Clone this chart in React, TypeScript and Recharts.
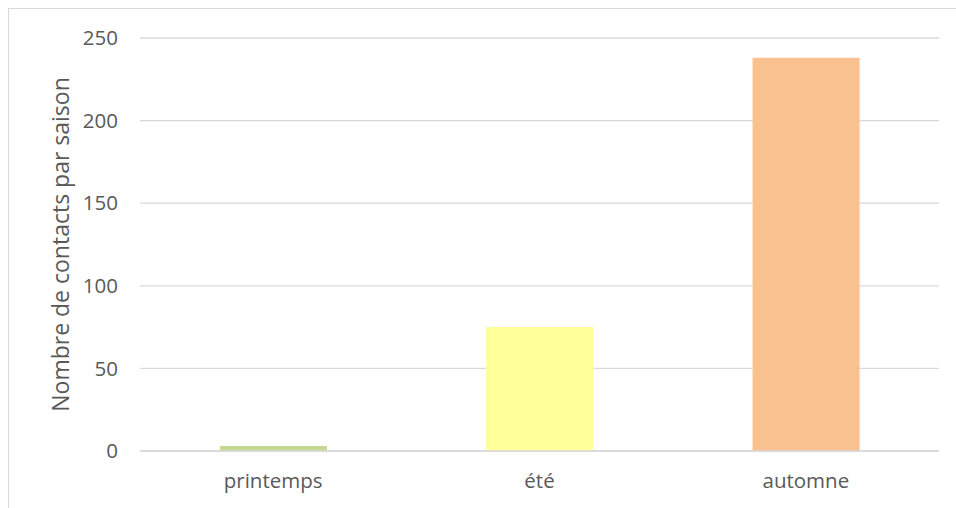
import { BarChart, Bar, XAxis, YAxis, CartesianGrid, Cell } from 'recharts';

const seasons = ['printemps', 'été', 'automne'];
const contacts = [3, 75, 238];
const barColors = ['#C5D993', '#FFFF99', '#F9C18F'];
const yTicks = [0, 50, 100, 150, 200, 250];

const data = seasons.map((s, i) => ({ season: s, value: contacts[i] }));

const FONT = '"Open Sans", sans-serif';
const TEXT = '#595959';

export default function App() {
  return (
    // fixed so the frame can run past the page edge without scrollbars
    <div
      style={{
        position: 'fixed',
        left: 8,
        top: 8,
        width: 960,
        height: 510,
        borderTop: '1px solid #D9D9D9',
        borderLeft: '1px solid #D9D9D9',
        background: '#fff',
        fontFamily: FONT,
      }}
    >
      <BarChart
        width={947}
        height={499}
        data={data}
        margin={{ top: 29, right: 17, bottom: 0, left: 0 }}
        barCategoryGap="30%"
      >
        <CartesianGrid vertical={false} stroke="#D9D9D9" strokeWidth={1.3} />
        <XAxis
          dataKey="season"
          height={57}
          tickLine={false}
          axisLine={{ stroke: '#D9D9D9', strokeWidth: 1.3 }}
          tickMargin={16}
          tick={{ fill: TEXT, fontSize: 20.5, fontFamily: FONT }}
        />
        <YAxis
          width={131}
          domain={[0, 250]}
          ticks={yTicks}
          tickLine={false}
          axisLine={false}
          tickMargin={16}
          tick={{ fill: TEXT, fontSize: 20.5, fontFamily: FONT }}
          label={{
            value: 'Nombre de contacts par saison',
            angle: -90,
            position: 'center',
            dx: -14,
            fill: TEXT,
            fontSize: 23,
            fontFamily: FONT,
          }}
        />
        <Bar dataKey="value" isAnimationActive={false}>
          {data.map((d, i) => (
            <Cell key={d.season} fill={barColors[i]} />
          ))}
        </Bar>
      </BarChart>
    </div>
  );
}
